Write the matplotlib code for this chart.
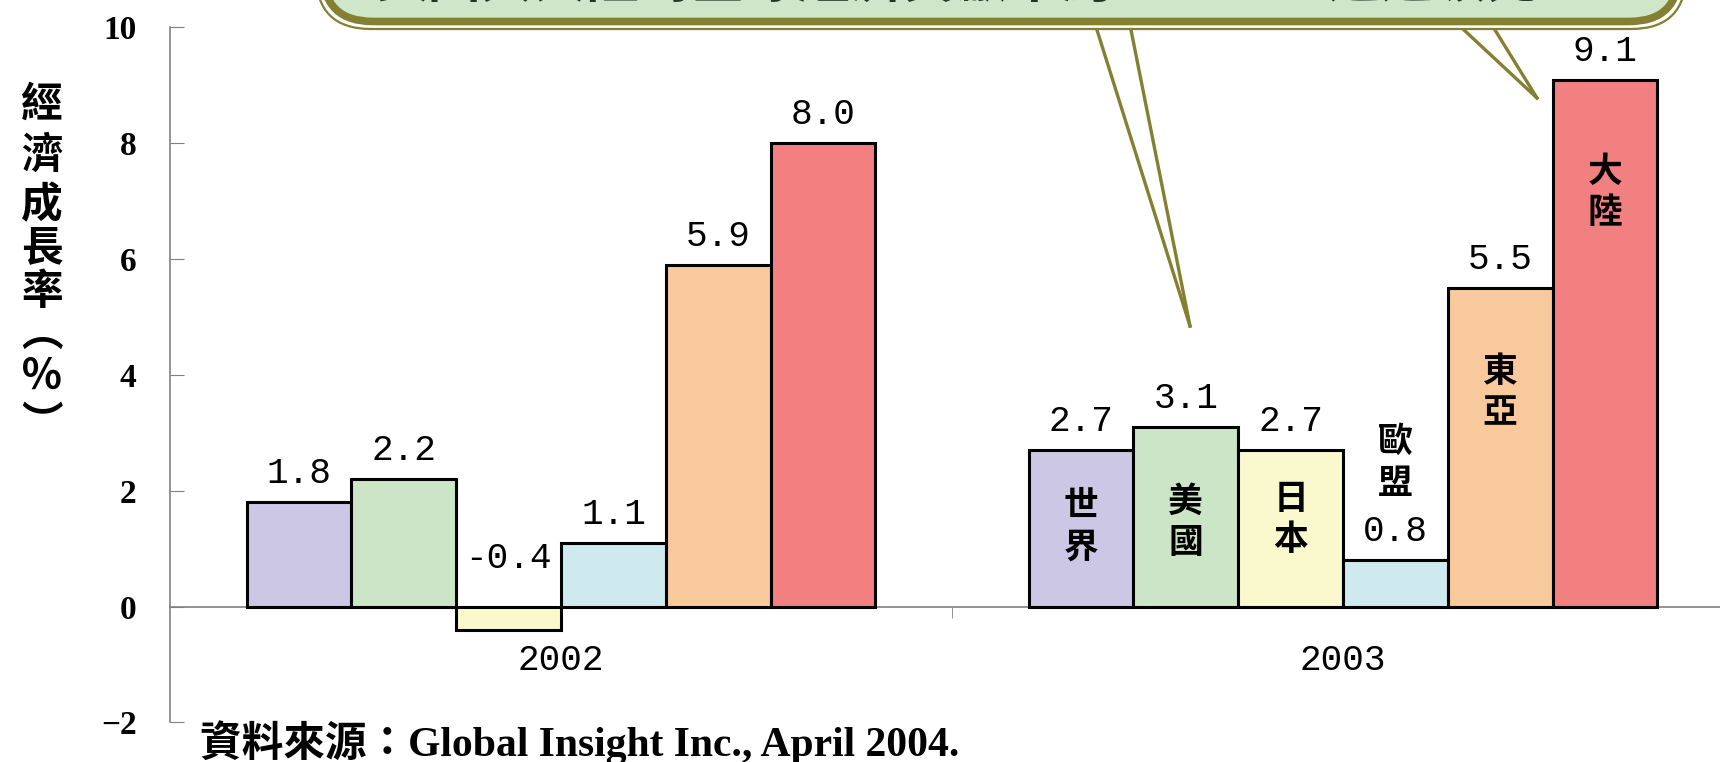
import numpy as np
import matplotlib.pyplot as plt
from matplotlib.patches import FancyBboxPatch
from matplotlib.lines import Line2D
from matplotlib.transforms import IdentityTransform

years = ["2002", "2003"]
regions = ["世界", "美國", "日本", "歐盟", "東亞", "大陸"]
growth_2002 = [1.8, 2.2, -0.4, 1.1, 5.9, 8.0]
growth_2003 = [2.7, 3.1, 2.7, 0.8, 5.5, 9.1]
y_ticks = [-2, 0, 2, 4, 6, 8, 10]
y_title = "經濟成長率︵％︶"
source = "資料來源：Global Insight Inc., April 2004."
callout = "美國與大陸對全球經濟貢獻率約13.6%，遙遙領先"

colors = ["#CBC7E4", "#CCE5C6", "#FAF8CD", "#CEEAEE", "#F7C99D", "#F28080"]
olive = "#857F32"
# centre height of the stacked region names in the 2003 group
name_y = [1.39, 1.46, 1.51, 2.49, 3.7, 7.16]

W, H = 1720, 762
fig = plt.figure(figsize=(W / 100, H / 100), dpi=100)
ax = fig.add_axes([170 / W, (H - 722.4) / H, 1564 / W, 695 / H])
for s in ["top", "right"]:
    ax.spines[s].set_visible(False)
ax.spines["bottom"].set_position(("data", 0))
for s in ["left", "bottom"]:
    ax.spines[s].set_color("#808080")
    ax.spines[s].set_linewidth(1.2)

width = 0.134
series = np.array([growth_2002, growth_2003])
x = np.arange(len(years))
mono = "Liberation Mono"
for i in range(len(regions)):
    pos = x + (i - 2.5) * width
    vals = series[:, i]
    ax.bar(pos, vals, width, color=colors[i], edgecolor="black", linewidth=2.2, zorder=3)
    for p, v in zip(pos, vals):
        ty = max(v, 0) + (0.19 if v >= 0 else 0.52)
        ax.text(p, ty, f"{v:.1f}", ha="center", va="bottom", family=mono, fontsize=26)

# region names written vertically inside / above the 2003 bars
pitch = 0.72
for i, name in enumerate(regions):
    p = 1 + (i - 2.5) * width
    for k, ch in enumerate(name):
        ax.text(p, name_y[i] + (0.5 - k) * pitch, ch, ha="center", va="center",
                family="Noto Sans CJK TC", fontweight="bold", fontsize=25, zorder=4)

ax.set_xlim(-0.5, 1.5)
ax.set_ylim(-2, 10)
ax.set_yticks(y_ticks)
ax.set_yticklabels([str(t).replace("-", "\u2212") for t in y_ticks],
                   family="Liberation Serif", fontweight="bold", fontsize=24)
ax.set_xticks(x)
ax.set_xticklabels(years, family=mono, fontsize=26)
ax.set_xticks([0.5], minor=True)
ax.tick_params(axis="x", which="major", length=0, pad=26)
ax.tick_params(axis="x", which="minor", length=8, direction="out", color="#808080")
ax.tick_params(axis="y", length=10, direction="in", color="#808080", pad=24)

# vertical y title
title_y = [105, 156, 205, 249, 292, 334, 377, 424]
for ch, yy in zip(y_title, title_y):
    fig.text(42 / W, 1 - yy / H, ch, ha="center", va="center",
             family="Noto Sans CJK TC", fontweight="bold", fontsize=30)

# source line
fig.text(200 / W, 6 / H, source, ha="left", va="baseline",
         family=["Liberation Serif", "Noto Sans CJK TC"], fontweight="bold", fontsize=30)

# callout box cut off at the top of the picture
idt = IdentityTransform()
outer = FancyBboxPatch((316, H - 29), 1370, 300, boxstyle="round,pad=0,rounding_size=55",
                       facecolor="white", edgecolor=olive, linewidth=1.6,
                       transform=idt, zorder=5)
inner = FancyBboxPatch((323, H - 21.5), 1356, 300, boxstyle="round,pad=0,rounding_size=50",
                       facecolor="#CFE6C8", edgecolor=olive, linewidth=5.5,
                       transform=idt, zorder=6)
fig.patches.extend([outer, inner])
tails = [((1097, 30), (1190, 326)), ((1131, 30), (1190, 326)),
         ((1464, 30), (1537, 98)), ((1495, 30), (1537, 98))]
for (x0, y0), (x1, y1) in tails:
    fig.lines.append(Line2D([x0, x1], [H - y0, H - y1], color=olive, linewidth=2.4,
                            transform=idt, zorder=5))
fig.text(375 / W, 1 - 8 / H, callout, ha="left", va="bottom", color="#22381E",
         family="Noto Sans CJK TC", fontweight="bold", fontsize=38, zorder=7)

fig.savefig("out.png", dpi=100)
